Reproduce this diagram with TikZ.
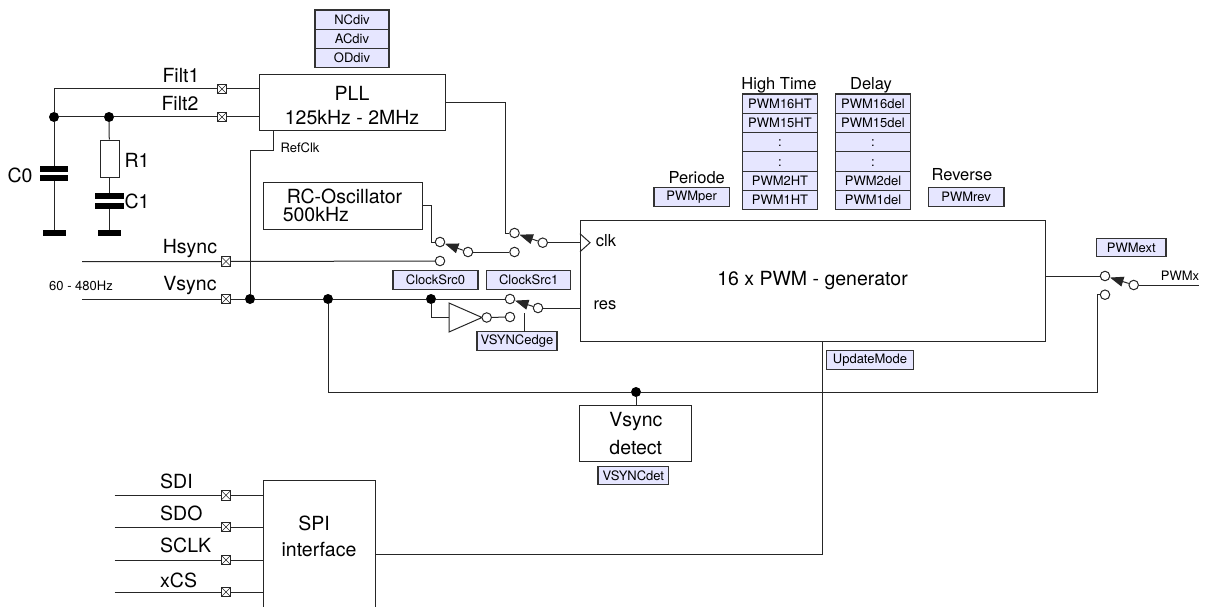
\documentclass[tikz,border=0pt]{standalone}
\usepackage{fontspec}
\setmainfont{TeX Gyre Heros}
\usetikzlibrary{arrows.meta,positioning,shapes.geometric,shapes.multipart}
\definecolor{regfill}{HTML}{E6E6FF}
\newcommand{\regrow}[1]{\rule[-4.4pt]{0pt}{18.2pt}#1}
\tikzset{
    wire/.style={line width=1pt, draw=black!85},
    bigtext/.style={font=\fontsize{19.5}{26}\selectfont},
    smalltext/.style={font=\fontsize{13}{15}\selectfont, inner sep=0pt},
    block/.style={draw=black!85, line width=1pt, fill=white, inner sep=0pt, outer sep=0pt, bigtext, align=center},
    reg/.style={draw=black!80, line width=1.1pt, fill=regfill, inner sep=0pt, outer sep=0pt,
        minimum height=18.7pt, font=\fontsize{13}{15}\selectfont},
    regstack/.style={
        rectangle split,
        rectangle split part fill={regfill},
        draw=black!80, line width=1.1pt,
        inner xsep=0pt, inner ysep=0pt, outer sep=0pt,
        text width=#1, align=center,
        font=\fontsize{13}{15}\selectfont
    },
    pad/.style={draw=black!85, line width=0.7pt, fill=white, minimum size=9.5pt, inner sep=0pt,
        path picture={
            \draw[line width=0.6pt] (path picture bounding box.north west) -- (path picture bounding box.south east);
            \draw[line width=0.6pt] (path picture bounding box.south west) -- (path picture bounding box.north east);
        }},
    contact/.style={circle, draw=black!85, line width=1pt, fill=white, minimum size=9.5pt, inner sep=0pt},
    junction/.style={circle, fill=black, minimum size=10pt, inner sep=0pt},
    plate/.style={fill=black, minimum height=5.2pt, inner sep=0pt},
    swarm/.style={wire, -{Triangle[length=13.5pt,width=10pt]}}
}
\begin{document}
\begin{tikzpicture}[x=1pt, y=-1pt]
    \useasboundingbox (0,0) rectangle (1212,607);

    % PLL and its filter
    \node (pll) [block, minimum width=186pt, minimum height=56pt] at (352,103)
        {\rule{0pt}{19pt}PLL\\[-2pt]125kHz - 2MHz};
    \node (pllregs) [
        regstack=74pt,
        rectangle split parts=3,
        anchor=north
    ] at (352,10)
    {
        \nodepart{one} \regrow{NCdiv}
        \nodepart{two} \regrow{ACdiv}
        \nodepart{three} \regrow{ODdiv}
    };
    \node (padfa) [pad] at (222,89) {};
    \node (padfb) [pad] at (222,117) {};
    \node [bigtext, inner sep=0pt] at (181,75) {Filt1};
    \node [bigtext, inner sep=0pt] at (180,103) {Filt2};
    \coordinate (corner) at (54,89);
    \node (jca) [junction] at (54,117) {};
    \node (jcb) [junction] at (109,117) {};
    \node (capa) [plate, minimum width=28pt] at (54,169) {};
    \node (capb) [plate, minimum width=28pt] at (54,178) {};
    \node (gnda) [plate, minimum width=23pt] at (54,233) {};
    \node (res) [draw=black!85, line width=1pt, fill=white, minimum width=19pt, minimum height=37pt, inner sep=0pt] at (109.5,158.5) {};
    \node (capc) [plate, minimum width=29pt] at (109.5,196) {};
    \node (capd) [plate, minimum width=29pt] at (109.5,206) {};
    \node (gndb) [plate, minimum width=23pt] at (109.5,233) {};
    \node [bigtext, inner sep=0pt] at (20,175) {C0};
    \node [bigtext, inner sep=0pt] at (137,160) {R1};
    \node [bigtext, inner sep=0pt] at (137,201) {C1};
    \node [smalltext] at (300,148) {RefClk};

    % clock selection
    \node (rcosc) [block, minimum width=159pt, minimum height=47pt, align=left,
        font=\fontsize{19.5}{18}\selectfont] at (342.5,205.5)
        {\hspace*{4pt}RC-Oscillator\\500kHz};
    \node (swaa) [contact] at (440,242) {};
    \node (swab) [contact] at (440,261) {};
    \node (swao) [contact] at (468,252) {};
    \node (swba) [contact] at (514.5,233) {};
    \node (swbb) [contact] at (514.5,252) {};
    \node (swbo) [contact] at (542.7,242.7) {};
    \node (csa) [reg, minimum width=85pt] at (435.5,280.2) {ClockSrc0};
    \node (csb) [reg, minimum width=84pt] at (528.7,280.2) {ClockSrc1};
    \node (padh) [pad] at (226,261.5) {};
    \node (padv) [pad] at (226,299) {};
    \node [bigtext, inner sep=0pt] at (190,249) {Hsync};
    \node [bigtext, inner sep=0pt] at (190,286) {Vsync};
    \node [smalltext] at (81,285.7) {60 - 480Hz};
    \coordinate (hsin) at (82,261.5);
    \coordinate (vsin) at (82,299);

    % reset path
    \node (jref) [junction] at (250,299) {};
    \node (jdet) [junction] at (328,299) {};
    \node (jinv) [junction] at (431,299) {};
    \node (swca) [contact] at (510,299) {};
    \node (swcb) [contact] at (510,317) {};
    \node (swco) [contact] at (538,308) {};
    \node (inv) [draw=black!85, line width=1pt, fill=white, isosceles triangle, isosceles triangle stretches,
        minimum width=29pt, minimum height=33pt, inner sep=0pt, outer sep=0pt, anchor=apex] at (482,317.5) {};
    \node (invo) [contact] at (486.7,317.5) {};
    \node (edge) [reg, minimum width=80pt] at (517,341) {VSYNCedge};
    \coordinate (edgeup) at (524,313);

    % generator
    \node (pwm) [block, minimum width=465pt, minimum height=121pt] at (812.5,280.5)
        {16 x PWM - generator};
    \node [font=\fontsize{16.5}{18}\selectfont, inner sep=0pt] at (606,241) {clk};
    \node [font=\fontsize{16.5}{18}\selectfont, inner sep=0pt] at (605,305) {res};
    \node (hightime) [
        regstack=75.4pt,
        rectangle split parts=6,
        anchor=north west
    ] at (742.3,94)
    {
        \nodepart{one} \regrow{PWM16HT}
        \nodepart{two} \regrow{PWM15HT}
        \nodepart{three} \regrow{:}
        \nodepart{four} \regrow{:}
        \nodepart{five} \regrow{PWM2HT}
        \nodepart{six} \regrow{PWM1HT}
    };
    \node (delay) [
        regstack=75.4pt,
        rectangle split parts=6,
        right=17.6pt of hightime
    ]
    {
        \nodepart{one} \regrow{PWM16del}
        \nodepart{two} \regrow{PWM15del}
        \nodepart{three} \regrow{:}
        \nodepart{four} \regrow{:}
        \nodepart{five} \regrow{PWM2del}
        \nodepart{six} \regrow{PWM1del}
    };
    \node [font=\fontsize{16.5}{18}\selectfont, inner sep=0pt] at (779,85) {High Time};
    \node [font=\fontsize{16.5}{18}\selectfont, inner sep=0pt] at (871,85) {Delay};
    \node (per) [reg, minimum width=75.4pt] at (691.7,196.7) {PWMper};
    \node (rev) [reg, minimum width=75.6pt] at (966.2,196.7) {PWMrev};
    \node [font=\fontsize{16.5}{18}\selectfont, inner sep=0pt] at (696.7,177.2) {Periode};
    \node [font=\fontsize{16.5}{18}\selectfont, inner sep=0pt] at (962,174.7) {Reverse};
    \node (update) [reg, minimum width=86.5pt] at (870,359.7) {UpdateMode};

    % output
    \node (ext) [reg, minimum width=69.3pt] at (1131.3,247.5) {PWMext};
    \node (swda) [contact] at (1105,276) {};
    \node (swdb) [contact] at (1105,294.7) {};
    \node (swdo) [contact] at (1133.7,285) {};
    \coordinate (pwmout) at (1199,285);
    \node [smalltext] at (1180,276) {PWMx};

    % vsync detection
    \node (det) [block, minimum width=111.7pt, minimum height=56.3pt, font=\fontsize{19.5}{28}\selectfont] at (635.8,433.8)
        {Vsync\\detect};
    \node (detreg) [reg, minimum width=70.7pt] at (633.3,475.5) {VSYNCdet};
    \node (jbus) [junction] at (636,392) {};

    % spi
    \node (spi) [block, anchor=north west, minimum width=112.4pt, minimum height=129pt] at (263.3,480) {};
    \node [bigtext, inner sep=0pt] at (314,523) {SPI};
    \node [bigtext, inner sep=0pt] at (319,550) {interface};
    \node (padsa) [pad] at (226,495.3) {};
    \node (padsb) [pad] at (226,527) {};
    \node (padsc) [pad] at (226,560) {};
    \node (padsd) [pad] at (226,592) {};
    \coordinate (sain) at (114.7,495.3);
    \coordinate (sbin) at (114.7,527);
    \coordinate (scin) at (114.7,560);
    \coordinate (sdin) at (114.7,592);
    \node [bigtext, inner sep=0pt, anchor=west] at (160,481) {SDI};
    \node [bigtext, inner sep=0pt, anchor=west] at (160,513) {SDO};
    \node [bigtext, inner sep=0pt, anchor=west] at (160,545) {SCLK};
    \node [bigtext, inner sep=0pt, anchor=west] at (160,580.7) {xCS};

    % connectors
    \draw[wire] (corner) -- (padfa) -- (padfa -| pll.west);
    \draw[wire] (corner) -- (jca) -- (capa);
    \draw[wire] (capb) -- (gnda);
    \draw[wire] (jca) -- (jcb) -- (padfb) -- (padfb -| pll.west);
    \draw[wire] (jcb) -- (res);
    \draw[wire] (res) -- (capc);
    \draw[wire] (capd) -- (gndb);
    \draw[wire] (pll.south west) ++(14,0) -- ++(0,19) -| (jref);
    \draw[wire] (pll.east) -| (505.7,233) -- (swba);
    \draw[wire] (rcosc.east) -- ++(9,0) |- (swaa);
    \draw[wire] (hsin) -- (padh) -- (swab);
    \draw[swarm] (swao) -- (swaa);
    \draw[wire] (swao) -- (swbb);
    \draw[swarm] (swbo) -- (swba);
    \draw[wire] (swbo) -- (swbo -| pwm.west);
    \draw[wire] (swbo -| pwm.west) ++(0,-9) -- ++(10,9) -- ++(-10,9);
    \draw[wire] (vsin) -- (padv) -- (jref) -- (jdet) -- (jinv) -- (swca);
    \draw[wire] (jinv) |- (inv.lower side);
    \draw[wire] (invo) -- (swcb);
    \draw[swarm] (swco) -- (swca);
    \draw[wire] (swco) -- (swco -| pwm.west);
    \draw[wire] (edgeup) -- (edgeup |- edge.north);
    \draw[wire] (swda -| pwm.east) -- (swda);
    \draw[swarm] (swdo) -- (swda);
    \draw[wire] (swdo) -- (pwmout);
    \draw[wire] (jdet) |- (jbus) -| (1097,294.7) -- (swdb);
    \draw[wire] (jbus) -- (jbus |- det.north);
    \draw[wire] (sain) -- (padsa) -- (padsa -| spi.west);
    \draw[wire] (sbin) -- (padsb) -- (padsb -| spi.west);
    \draw[wire] (scin) -- (padsc) -- (padsc -| spi.west);
    \draw[wire] (sdin) -- (padsd) -- (padsd -| spi.west);
    \draw[wire] (spi.east |- 0,554.3) -| (822,340.5);
\end{tikzpicture}
\end{document}
